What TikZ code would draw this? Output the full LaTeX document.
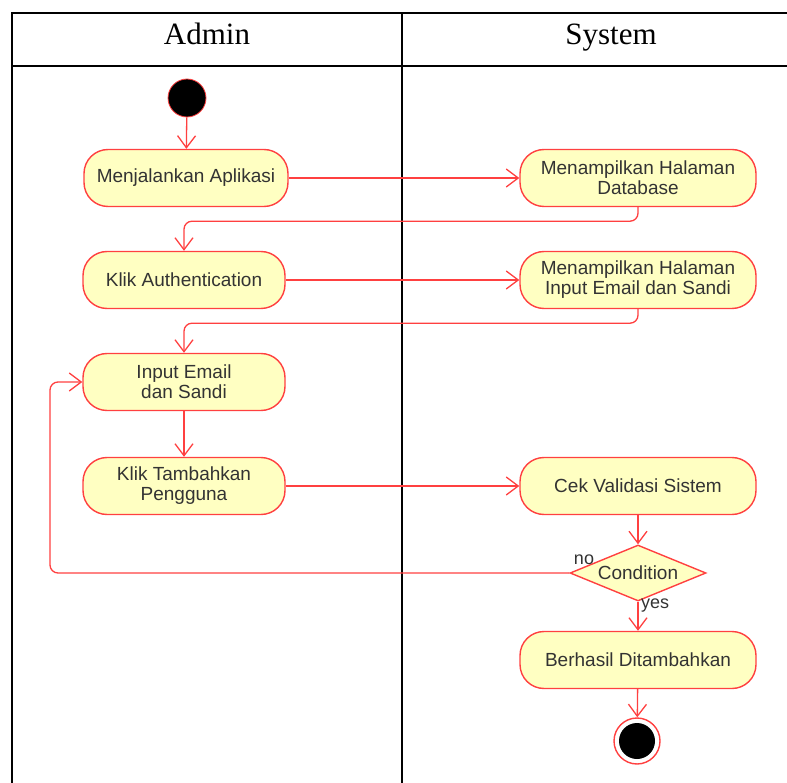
\documentclass[tikz,border=0pt]{standalone}
\usepackage{fontspec}
\setmainfont{Liberation Serif}
\newfontfamily\umlfont{Liberation Sans}
\usetikzlibrary{arrows.meta,shapes.geometric}
\definecolor{garis}{RGB}{255,64,64}
\definecolor{isi}{RGB}{255,255,194}
\definecolor{teks}{RGB}{51,51,51}

\begin{document}
\begin{tikzpicture}[x=1pt,y=1pt,
	tabel/.style={line width=2pt, draw=black},
	judul/.style={anchor=base, font=\fontsize{31}{34}\selectfont},
	aktivitas/.style={rectangle, rounded corners=24pt, draw=garis, fill=isi, line width=1.4pt,
		minimum height=57pt, inner sep=0pt, align=center, text=teks,
		font=\umlfont\fontsize{19}{20}\selectfont},
	keputusan/.style={diamond, aspect=2.4, draw=garis, fill=isi, line width=1.4pt,
		minimum width=136pt, minimum height=56pt, inner sep=0pt, text=teks,
		font=\umlfont\fontsize{19}{20}\selectfont},
	mulai/.style={circle, draw=garis, fill=black, line width=0.8pt, minimum size=38pt, inner sep=0pt},
	selesai/.style={circle, draw=garis, fill=white, line width=1.4pt, minimum size=46pt, inner sep=0pt},
	titik/.style={circle, fill=black, minimum size=36pt, inner sep=0pt},
	ket/.style={text=teks, inner sep=0pt, font=\umlfont\fontsize{18}{20}\selectfont},
	alur/.style={draw=garis, line width=1.3pt, rounded corners=8pt,
		-{Straight Barb[length=12pt, width=18pt]}}
	]
	\useasboundingbox (0,0) rectangle (787,-783);

	% Tabel
	\draw[tabel] (787,-13) -- (12,-13) -- (12,-783);
	\draw[tabel] (12,-66) -- (787,-66);
	\draw[tabel] (402,-13) -- (402,-783);
	\node[judul] (admin) at (207,-45) {Admin};
	\node[judul] (system) at (611,-45) {System};

	% Node
	\node[mulai] (start) at (187,-98) {};
	\node[aktivitas, minimum width=204pt] (jalan) at (186,-178) {Menjalankan Aplikasi};
	\node[aktivitas, minimum width=236pt] (database) at (638,-178) {Menampilkan Halaman\\Database};
	\node[aktivitas, minimum width=202pt] (auth) at (184,-280) {Klik Authentication};
	\node[aktivitas, minimum width=236pt] (halaman) at (638,-280) {Menampilkan Halaman\\Input Email dan Sandi};
	\node[aktivitas, minimum width=202pt] (input) at (184,-382) {Input Email\\dan Sandi};
	\node[aktivitas, minimum width=202pt] (tambah) at (184,-486) {Klik Tambahkan\\Pengguna};
	\node[aktivitas, minimum width=236pt] (cek) at (638,-486) {Cek Validasi Sistem};
	\node[keputusan] (kondisi) at (638,-573) {Condition};
	\node[aktivitas, minimum width=236pt] (berhasil) at (638,-660) {Berhasil Ditambahkan};
	\node[selesai] (akhir) at (637,-741) {};
	\node[titik] (akhirdot) at (akhir) {};
	\coordinate (balik) at (50,-573);

	\node[ket] (no) at (584,-560) {no};
	\node[ket, anchor=west] (yes) at (641,-606) {yes};

	% Garis
	\draw[alur] (start) -- (jalan);
	\draw[alur] (jalan) -- (database);
	\draw[alur] (database.south) -- ++(0,-14) -| (auth.north);
	\draw[alur] (auth) -- (halaman);
	\draw[alur] (halaman.south) -- ++(0,-14) -| (input.north);
	\draw[alur] (input) -- (tambah);
	\draw[alur] (tambah) -- (cek);
	\draw[alur] (cek) -- (kondisi);
	\draw[alur] (kondisi.west) -- (balik) |- (input.west);
	\draw[alur] (kondisi) -- (berhasil);
	\draw[alur] (berhasil) -- (akhir);

\end{tikzpicture}
\end{document}
